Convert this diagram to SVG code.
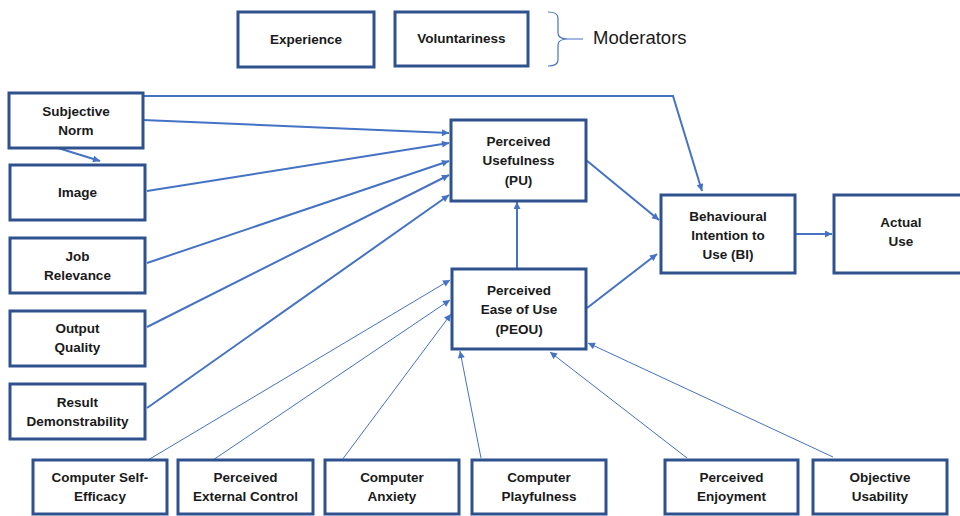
<svg xmlns="http://www.w3.org/2000/svg" width="960" height="516" viewBox="0 0 960 516">
<defs>
<marker id="ah" viewBox="0 0 10 10" refX="10" refY="5" markerWidth="8" markerHeight="7" markerUnits="userSpaceOnUse" orient="auto">
<path d="M0,0 L10,5 L0,10 z" fill="#4472C4"/>
</marker>
</defs>
<style>
.box{fill:#fff;stroke:#2F528F;stroke-width:3}
.t{font-family:"Liberation Sans",Arial,sans-serif;font-weight:bold;font-size:13.5px;fill:#1a1a1a;text-anchor:middle}
.thick{stroke:#4472C4;stroke-width:2;fill:none;marker-end:url(#ah)}
.thin{stroke:#4472C4;stroke-width:1;fill:none;marker-end:url(#ah)}
.mod{font-family:"Liberation Sans",Arial,sans-serif;font-size:18.5px;fill:#1a1a1a}
</style>
<rect width="960" height="516" fill="#fff"/>

<g id="connectors">
<polyline class="thick" points="143,96 673,96 702,191"/>
<line class="thick" x1="143" y1="120" x2="449" y2="133"/>
<line class="thick" x1="58" y1="148" x2="100" y2="161"/>
<line class="thick" x1="147" y1="191" x2="449" y2="143"/>
<line class="thick" x1="147" y1="263" x2="449" y2="161"/>
<line class="thick" x1="147" y1="327" x2="449" y2="175"/>
<line class="thick" x1="147" y1="408" x2="449" y2="195"/>
<line class="thick" x1="586" y1="160" x2="659" y2="220"/>
<line class="thick" x1="517" y1="268" x2="517" y2="202"/>
<line class="thick" x1="587" y1="308" x2="657" y2="254"/>
<line class="thick" x1="795" y1="234" x2="832" y2="234"/>
<line class="thin" x1="148" y1="460" x2="450" y2="280"/>
<line class="thin" x1="213" y1="460" x2="450" y2="300"/>
<line class="thin" x1="342" y1="460" x2="451" y2="314"/>
<line class="thin" x1="481" y1="458" x2="460" y2="351"/>
<line class="thin" x1="687" y1="458" x2="550" y2="352"/>
<line class="thin" x1="833" y1="457" x2="588" y2="343"/>
</g>

<g id="experience"><rect class="box" x="238" y="12" width="136" height="55"/><text class="t" x="306" y="44">Experience</text></g>
<g id="voluntariness"><rect class="box" x="395" y="12" width="133" height="54"/><text class="t" x="461.5" y="43">Voluntariness</text></g>
<g id="moderators">
<path d="M548,12 Q558,12 558,18 L558,33 Q558,39 568,39 L583,39 M568,39 Q558,39 558,45 L558,60 Q558,66 548,66" fill="none" stroke="#4472C4" stroke-width="1.2"/>
<text class="mod" x="593" y="44">Moderators</text>
</g>

<g id="subjective-norm"><rect class="box" x="9" y="93" width="134" height="55"/><text class="t" x="76" y="116">Subjective</text><text class="t" x="76" y="135">Norm</text></g>
<g id="image"><rect class="box" x="10" y="165" width="135" height="55"/><text class="t" x="77.5" y="197">Image</text></g>
<g id="job-relevance"><rect class="box" x="10" y="238" width="135" height="55"/><text class="t" x="77.5" y="261">Job</text><text class="t" x="77.5" y="280">Relevance</text></g>
<g id="output-quality"><rect class="box" x="10" y="311" width="135" height="55"/><text class="t" x="77.5" y="333">Output</text><text class="t" x="77.5" y="352">Quality</text></g>
<g id="result-demonstrability"><rect class="box" x="10" y="384" width="135" height="55"/><text class="t" x="77.5" y="407">Result</text><text class="t" x="77.5" y="426">Demonstrability</text></g>

<g id="pu"><rect class="box" x="451" y="120" width="135" height="81"/><text class="t" x="518.5" y="146">Perceived</text><text class="t" x="518.5" y="165">Usefulness</text><text class="t" x="518.5" y="185">(PU)</text></g>
<g id="peou"><rect class="box" x="452" y="269" width="134" height="80"/><text class="t" x="519" y="295">Perceived</text><text class="t" x="519" y="314">Ease of Use</text><text class="t" x="519" y="334">(PEOU)</text></g>
<g id="bi"><rect class="box" x="661" y="195" width="134" height="78"/><text class="t" x="728" y="221">Behavioural</text><text class="t" x="728" y="240">Intention to</text><text class="t" x="728" y="259">Use (BI)</text></g>
<g id="actual-use"><rect class="box" x="834" y="195" width="134" height="78"/><text class="t" x="901" y="227">Actual</text><text class="t" x="901" y="246">Use</text></g>

<g id="computer-self-efficacy"><rect class="box" x="33" y="460" width="134" height="54"/><text class="t" x="100" y="482">Computer Self-</text><text class="t" x="100" y="501">Efficacy</text></g>
<g id="perceived-external-control"><rect class="box" x="178" y="460" width="135" height="54"/><text class="t" x="245.5" y="482">Perceived</text><text class="t" x="245.5" y="501">External Control</text></g>
<g id="computer-anxiety"><rect class="box" x="325" y="460" width="134" height="54"/><text class="t" x="392" y="482">Computer</text><text class="t" x="392" y="501">Anxiety</text></g>
<g id="computer-playfulness"><rect class="box" x="472" y="460" width="134" height="54"/><text class="t" x="539" y="482">Computer</text><text class="t" x="539" y="501">Playfulness</text></g>
<g id="perceived-enjoyment"><rect class="box" x="665" y="460" width="133" height="54"/><text class="t" x="731.5" y="482">Perceived</text><text class="t" x="731.5" y="501">Enjoyment</text></g>
<g id="objective-usability"><rect class="box" x="813" y="460" width="134" height="54"/><text class="t" x="880" y="482">Objective</text><text class="t" x="880" y="501">Usability</text></g>
</svg>
